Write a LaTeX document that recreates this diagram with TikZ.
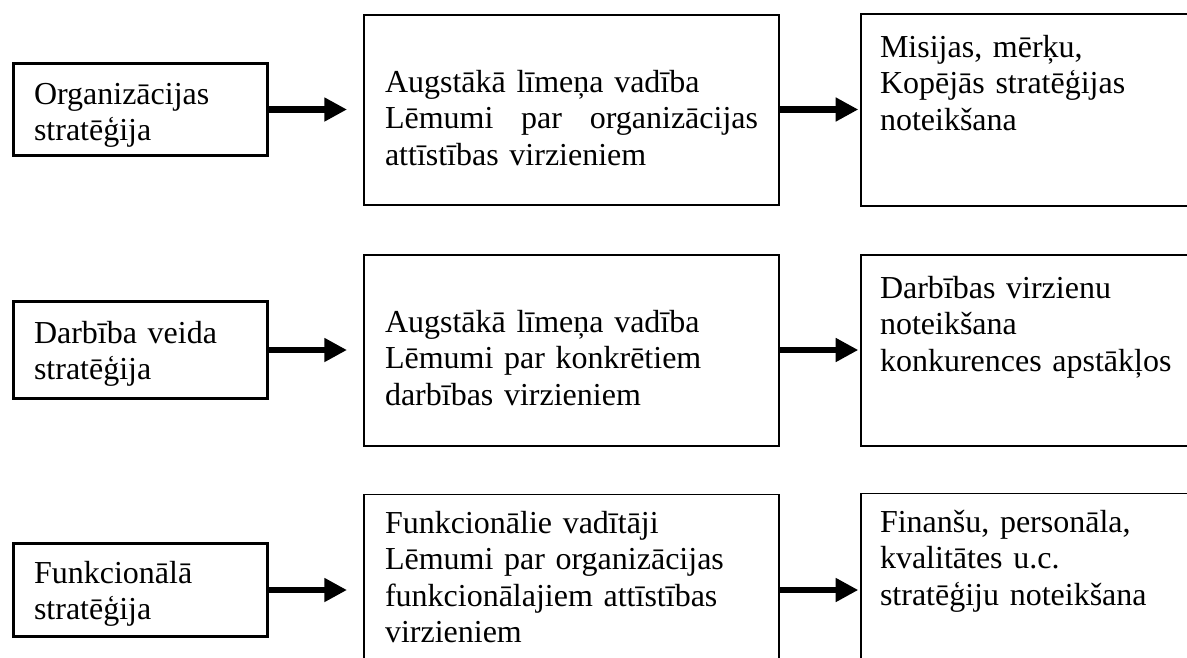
\documentclass[tikz,border=0pt]{standalone}
\usepackage{fontspec}
\setmainfont{Liberation Serif}
\usetikzlibrary{arrows.meta}

\begin{document}
\begin{tikzpicture}[x=0.75pt, y=-0.75pt,
  every node/.style={inner sep=0pt, outer sep=0pt},
  levelbox/.style={draw, line width=2.4pt, minimum width={254*0.75pt}},
  midbox/.style={draw, line width=1.2pt, minimum width={415.4*0.75pt}},
  resbox/.style={draw, line width=1.2pt, minimum width={339.2*0.75pt}},
  txt/.style={anchor=base west, align=left, font=\fontsize{24pt}{27.4pt}\selectfont},
  flow/.style={line width=5.2pt, -{Triangle[length=17pt,width=17pt]}}
]
\useasboundingbox (0,0) rectangle (1187,657);
\clip (0,0) rectangle (1187,657);

% strategy levels
\node[levelbox, minimum height={92*0.75pt}] (l1) at (140.5,109.5) {};
\node[levelbox, minimum height={97*0.75pt}] (l2) at (140.5,350) {};
\node[levelbox, minimum height={93*0.75pt}] (l3) at (140.5,590) {};

% decision makers and decisions
\node[midbox, minimum height={190.4*0.75pt}] (m1) at (571.5,110) {};
\node[midbox, minimum height={191.4*0.75pt}] (m2) at (571.5,350.5) {};
\node[midbox, minimum height={206*0.75pt}] (m3) at (571.5,597.4) {};

% results
\node[resbox, minimum height={192.4*0.75pt}] (r1) at (1030.4,110) {};
\node[resbox, minimum height={191.4*0.75pt}] (r2) at (1030.4,350.5) {};
\node[resbox, minimum height={206*0.75pt}] (r3) at (1030.4,596.4) {};

% texts
\node[txt, text width={220*0.75pt}] (l1t) at (34,104) {Organizācijas\\stratēģija};
\node[txt, text width={220*0.75pt}] (l2t) at (34,343) {Darbība veida\\stratēģija};
\node[txt, text width={220*0.75pt}] (l3t) at (34,583) {Funkcionālā\\stratēģija};

\node[txt, text width={373*0.75pt}] (m1t) at (385,92)
  {Augstākā līmeņa vadība\\Lēmumi\hfill par\hfill organizācijas\\attīstības virzieniem};
\node[txt, text width={373*0.75pt}] (m2t) at (385,332)
  {Augstākā līmeņa vadība\\Lēmumi par konkrētiem\\darbības virzieniem};
\node[txt, text width={373*0.75pt}] (m3t) at (385,533)
  {Funkcionālie vadītāji\\Lēmumi par organizācijas\\funkcionālajiem attīstības\\virzieniem};

\node[txt, text width={300*0.75pt}] (r1t) at (880,57)
  {Misijas, mērķu,\\Kopējās stratēģijas\\noteikšana};
\node[txt, text width={300*0.75pt}] (r2t) at (880,298)
  {Darbības virzienu\\noteikšana\\konkurences apstākļos};
\node[txt, text width={300*0.75pt}] (r3t) at (880,532)
  {Finanšu, personāla,\\kvalitātes u.c.\\stratēģiju noteikšana};

% arrows
\draw[flow, shorten >={16.8*0.75pt}] (l1.east) -- (l1.east -| m1.west);
\draw[flow, shorten >={16.8*0.75pt}] (l2.east) -- (l2.east -| m2.west);
\draw[flow, shorten >={16.8*0.75pt}] (l3.east) -- (l3.east -| m3.west);

\draw[flow, shorten >={2.5*0.75pt}] (l1.east -| m1.east) -- (l1.east -| r1.west);
\draw[flow, shorten >={2.5*0.75pt}] (l2.east -| m2.east) -- (l2.east -| r2.west);
\draw[flow, shorten >={2.5*0.75pt}] (l3.east -| m3.east) -- (l3.east -| r3.west);
\end{tikzpicture}
\end{document}
